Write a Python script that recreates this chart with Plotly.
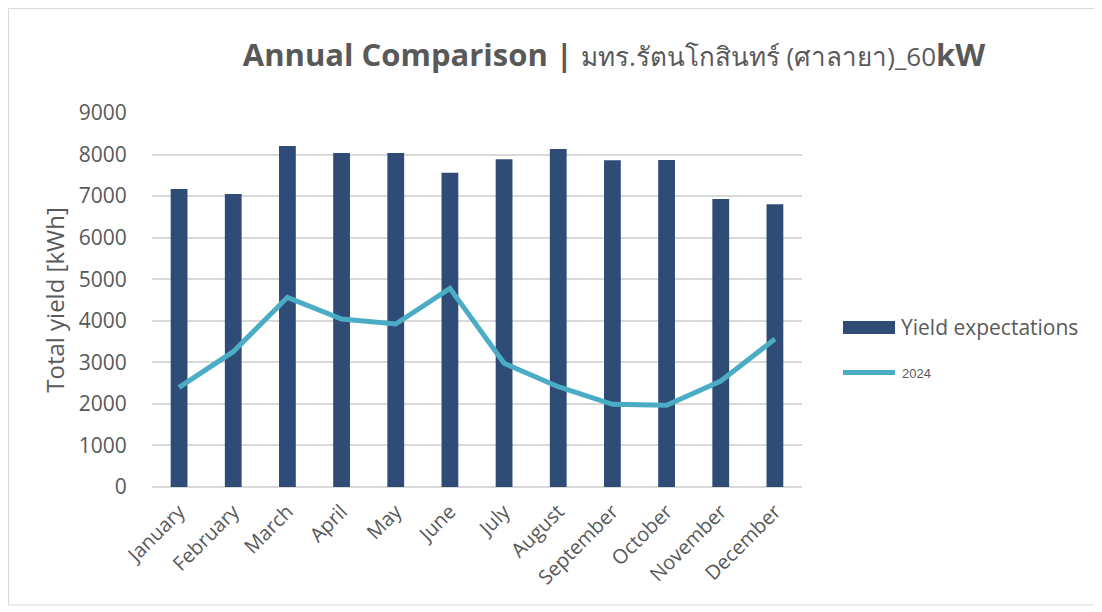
import plotly.graph_objects as go

months = ["January", "February", "March", "April", "May", "June", "July",
          "August", "September", "October", "November", "December"]
expected = [7170, 7050, 8205, 8036, 8036, 7563, 7885, 8133, 7860, 7868, 6930, 6802]
yield_2024 = [2399, 3256, 4564, 4042, 3922, 4781, 2976, 2413, 1990, 1966, 2550, 3561]
y_ticks = [0, 1000, 2000, 3000, 4000, 5000, 6000, 7000, 8000, 9000]

BAR = "#2E4C75"
LINE = "#4BACC6"
TXT = "#595959"
FONT = "Open Sans, Noto Sans, DejaVu Sans, sans-serif"

OFF = 8  # page body margin of the html page
W, H = 1102 - OFF, 612 - OFF
# plot area in window pixels: x 152..802, y 113..487
L = 152 - OFF
R = W - (802 - OFF)
T = 113 - OFF
B = H - (487 - OFF)

pw = W - L - R
ph = H - T - B
def px_x(x):
    return (x - OFF - L) / pw
def px_y(y):
    return (H - B - (y - OFF)) / ph

fig = go.Figure()
fig.add_trace(go.Bar(x=months, y=expected, name="Yield expectations",
                     marker=dict(color=BAR, line=dict(width=0)), showlegend=False))
fig.add_trace(go.Scatter(x=months, y=yield_2024, name="2024", mode="lines",
                         line=dict(color=LINE, width=5), showlegend=False))

shapes = [
    dict(type="rect", xref="paper", yref="paper",
         x0=px_x(8.5), x1=px_x(1096), y0=px_y(605), y1=px_y(8.5),
         line=dict(color="#D9D9D9", width=1), fillcolor="rgba(0,0,0,0)", layer="below"),
    dict(type="rect", xref="paper", yref="paper",
         x0=px_x(843), x1=px_x(895), y0=px_y(334), y1=px_y(321),
         line=dict(width=0), fillcolor=BAR),
    dict(type="line", xref="paper", yref="paper",
         x0=px_x(843), x1=px_x(895), y0=px_y(372.5), y1=px_y(372.5),
         line=dict(color=LINE, width=5)),
]
annotations = [
    dict(xref="paper", yref="paper", x=px_x(899), y=px_y(327), xanchor="left", yanchor="middle",
         text="Yield expectations", showarrow=False, font=dict(size=21, color=TXT, family=FONT)),
    dict(xref="paper", yref="paper", x=px_x(900), y=px_y(373), xanchor="left", yanchor="middle",
         text="2024", showarrow=False, font=dict(size=13, color=TXT, family="Liberation Sans, Arial, sans-serif")),
]

fig.update_layout(
    width=W, height=H,
    margin=dict(l=L, r=R, t=T, b=B),
    paper_bgcolor="white", plot_bgcolor="white",
    title=dict(
        text="<b>Annual Comparison |</b> <span style='font-size:26px'>มทร.รัตนโกสินทร์ (ศาลายา)_60</span><b>kW</b>",
        x=(614 - OFF) / W, xanchor="center", y=1 - (55 - OFF) / H, yanchor="middle",
        font=dict(size=31, color=TXT, family=FONT)),
    bargap=0.69,
    xaxis=dict(tickangle=-45, tickfont=dict(size=20, color=TXT, family=FONT),
               showgrid=False, showline=False, ticks="outside", ticklen=4,
               tickcolor="rgba(0,0,0,0)"),
    yaxis=dict(range=[0, 9000], tickvals=y_ticks, tickfont=dict(size=21, color=TXT, family=FONT),
               gridcolor="#D9D9D9", gridwidth=1.5, zeroline=True, zerolinecolor="#D9D9D9",
               zerolinewidth=1.5, showline=False, ticks="outside", ticklen=20,
               tickcolor="rgba(0,0,0,0)",
               title=dict(text="Total yield [kWh]", font=dict(size=24, color=TXT, family=FONT), standoff=7)),
    shapes=shapes,
    annotations=annotations,
)

fig.write_html("out.html")
